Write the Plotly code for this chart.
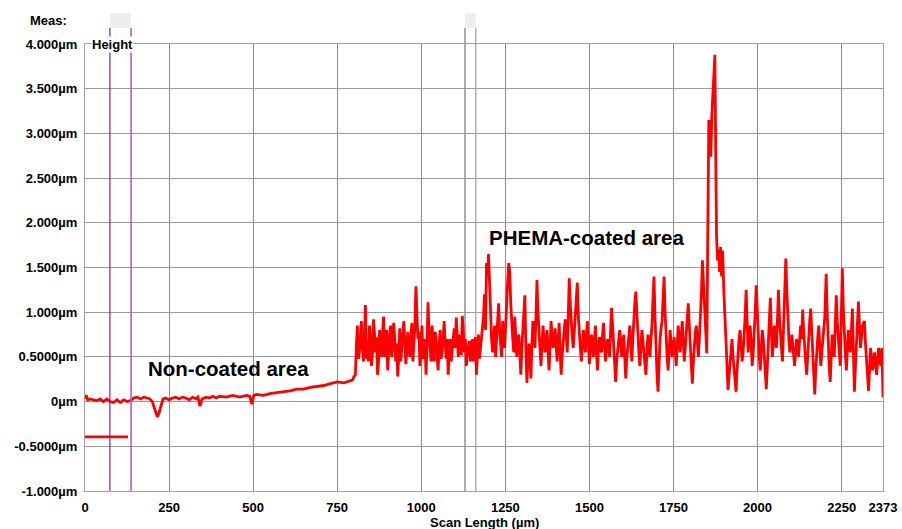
import plotly.graph_objects as go

# ---------------- data ----------------
smooth_x = [0, 4, 8, 15, 25, 35, 45, 55, 65, 75, 85, 95, 105, 115, 125, 135, 145, 155, 165, 175,
            185, 193, 200, 205, 210, 215, 220, 225, 232, 240, 250, 260, 270, 280, 290, 300, 310,
            320, 330, 336, 342, 348, 360, 370, 380, 390, 400, 420, 440, 460, 480, 490, 496, 502,
            510, 530, 550, 570, 590, 610, 630, 650, 670, 690, 710, 730, 750, 770, 785, 795, 800]
smooth_y = [0.03, 0.07, 0.02, 0.03, 0.02, 0.01, 0.03, 0.0, 0.03, 0.0, -0.01, 0.02, -0.01, 0.02, 0.0,
            0.01, 0.04, 0.05, 0.03, 0.05, 0.04, 0.03, 0.0, -0.06, -0.12, -0.17, -0.13, -0.05, 0.03,
            0.04, 0.02, 0.04, 0.05, 0.03, 0.05, 0.04, 0.02, 0.05, 0.03, 0.05, -0.05, 0.03, 0.05, 0.04,
            0.06, 0.04, 0.06, 0.05, 0.07, 0.05, 0.07, 0.06, -0.03, 0.07, 0.08, 0.07, 0.09, 0.10, 0.11,
            0.12, 0.14, 0.14, 0.16, 0.17, 0.18, 0.20, 0.22, 0.21, 0.23, 0.24, 0.28]

noisy_x = [804, 810, 816, 822, 828, 834, 840, 846, 852, 858, 864, 870, 876, 882, 888, 894, 900, 906,
           912, 918, 924, 930, 936, 942, 948, 954, 960, 966, 972, 978, 984, 990, 996,
           1002, 1008, 1014, 1020, 1026, 1032, 1038, 1044, 1050, 1056, 1062, 1068, 1074, 1080, 1086,
           1092, 1098, 1104, 1110, 1116, 1122, 1128, 1134, 1140, 1146, 1152, 1158, 1164, 1170, 1176,
           1182, 1188, 1194,
           1200, 1206, 1212, 1218, 1224, 1230, 1236, 1242, 1248, 1254, 1260, 1266, 1272, 1278, 1284,
           1290, 1296, 1302, 1308, 1314, 1320, 1326, 1332, 1338, 1344, 1350, 1356, 1362, 1368, 1374,
           1380, 1386, 1392,
           1398, 1404, 1410, 1416, 1422, 1428, 1434, 1440, 1446, 1452, 1458, 1464, 1470, 1476, 1482,
           1488, 1494, 1500, 1506, 1512, 1518, 1524, 1530, 1536, 1542, 1548, 1554, 1560, 1566, 1572,
           1578, 1584, 1590,
           1596, 1602, 1608, 1614, 1620, 1626, 1632, 1638, 1644, 1650, 1656, 1662, 1668, 1674, 1680,
           1686, 1692, 1698, 1704, 1710, 1716, 1722, 1728, 1734, 1740, 1746, 1752, 1758, 1764, 1770,
           1776, 1782, 1788,
           1794, 1800, 1806, 1812, 1818, 1824, 1830, 1836, 1840, 1845, 1849, 1852, 1855, 1858, 1861,
           1864, 1867, 1870, 1873, 1876, 1878, 1881, 1884, 1887, 1890, 1893, 1896, 1900, 1903, 1907,
           1912,
           1918, 1924, 1930, 1936, 1942, 1948, 1954, 1960, 1966, 1972, 1978, 1984, 1990, 1996, 2002,
           2008, 2014, 2020, 2026, 2032, 2038, 2044, 2050, 2056, 2062, 2068, 2074, 2080, 2084, 2090,
           2096, 2102, 2110,
           2116, 2122, 2128, 2134, 2140, 2146, 2152, 2158, 2164, 2170, 2176, 2182, 2188, 2194, 2200,
           2204, 2210, 2216, 2222, 2228, 2234, 2240, 2246, 2252, 2258, 2264, 2270, 2276, 2282, 2288,
           2294, 2300, 2306, 2312, 2318, 2324, 2330, 2336, 2342, 2348, 2354, 2360, 2366, 2370, 2373]
noisy_y = [0.30, 0.85, 0.55, 0.90, 0.45, 1.08, 0.60, 0.85, 0.40, 0.92, 0.55, 0.30, 0.80, 0.50, 0.95,
           0.65, 0.35, 0.75, 0.50, 0.88, 0.45, 0.28, 0.82, 0.60, 0.90, 0.42, 0.78, 0.50, 0.88, 0.62,
           1.29, 0.70, 0.40,
           0.85, 0.55, 0.30, 1.11, 0.60, 0.85, 0.45, 0.72, 0.35, 0.80, 0.55, 0.90, 0.48, 0.30, 0.70,
           0.55, 0.82, 0.94, 0.50, 0.68, 0.96, 0.55, 0.40, 0.62, 0.45, 0.70, 0.58, 0.30, 0.75, 0.60,
           0.85, 1.20, 1.55,
           1.65, 0.95, 0.55, 0.85, 0.70, 1.10, 0.65, 0.90, 0.60, 1.20, 1.55, 1.10, 0.70, 0.95, 0.50,
           0.75, 0.30, 0.80, 1.19, 0.21, 0.65, 0.26, 0.90, 0.60, 1.36, 0.75, 0.40, 0.85, 0.55, 0.80,
           0.35, 0.90, 0.60,
           0.82, 0.45, 0.88, 0.30, 0.70, 0.92, 0.55, 1.38, 0.85, 0.60, 0.95, 1.33, 0.70, 0.45, 0.80,
           0.55, 0.90, 0.42, 0.75, 0.50, 0.85, 0.35, 0.72, 0.55, 0.88, 0.45, 0.70, 0.50, 1.05, 0.60,
           0.22, 0.55, 0.80,
           0.50, 0.75, 0.26, 0.65, 0.85, 0.45, 0.95, 1.23, 0.70, 0.40, 0.80, 0.55, 0.30, 0.75, 0.50,
           0.85, 1.40, 0.55, 0.11, 0.70, 0.90, 1.40, 0.65, 0.35, 0.80, 0.50, 0.72, 0.40, 0.85, 0.55,
           0.90, 0.45, 0.75,
           1.10, 0.60, 0.20, 0.70, 0.85, 0.50, 0.90, 1.58, 1.20, 0.80, 0.54, 1.90, 3.15, 2.90, 2.74,
           3.20, 3.41, 3.60, 3.88, 2.60, 1.86, 1.58, 1.70, 1.45, 1.73, 1.40, 1.69, 1.20, 0.99, 0.60,
           0.13,
           0.45, 0.70, 0.35, 0.11, 0.60, 0.80, 0.45, 0.70, 1.25, 0.55, 0.85, 0.40, 0.75, 1.30, 0.60,
           0.35, 0.80, 0.55, 0.14, 0.70, 1.16, 0.50, 0.85, 0.60, 1.25, 0.70, 0.45, 1.20, 1.60, 0.90,
           0.55, 0.75, 0.40,
           0.70, 0.50, 0.85, 1.03, 0.55, 0.30, 0.75, 1.04, 0.50, 0.08, 0.60, 0.85, 0.40, 0.70, 0.95,
           1.43, 0.60, 0.22, 0.75, 0.50, 1.19, 0.65, 0.40, 1.49, 0.70, 0.35, 0.80, 0.55, 1.04, 0.11,
           0.70, 1.12, 0.60, 0.85, 0.90, 0.45, 0.12, 0.60, 0.35, 0.55, 0.30, 0.60, 0.40, 0.60, 0.05]

# additional readings between the samples above (finer detail of the rough coating)
mid_x = [807, 813, 819, 825, 831, 837, 843, 849, 855, 861, 867, 873, 879, 885, 891, 897, 903, 909,
         915, 921, 927, 933, 939, 945, 951, 957, 963, 969, 975, 981, 987, 993, 999,
         1005, 1011, 1017, 1023, 1029, 1035, 1041, 1047, 1053, 1059, 1065, 1071, 1077, 1083, 1089,
         1095, 1101, 1107, 1113, 1119, 1125, 1131, 1137, 1143, 1149, 1155, 1161, 1167, 1173, 1179,
         1185, 1191, 1197,
         1203, 1209, 1215, 1221, 1227, 1233, 1239, 1245, 1251, 1257, 1263, 1269, 1275, 1281, 1287,
         1293, 1299, 1305, 1311, 1317, 1323, 1329, 1335, 1341, 1347, 1353, 1359, 1365, 1371, 1377,
         1383, 1389, 1395,
         1401, 1407, 1413, 1419, 1425, 1431, 1437, 1443, 1449, 1455, 1461, 1467, 1473, 1479, 1485,
         1491, 1497, 1503, 1509, 1515, 1521, 1527, 1533, 1539, 1545, 1551, 1557, 1563, 1569, 1575,
         1581, 1587, 1593,
         1599, 1605, 1611, 1617, 1623, 1629, 1635, 1641, 1647, 1653, 1659, 1665, 1671, 1677, 1683,
         1689, 1695, 1701, 1707, 1713, 1719, 1725, 1731, 1737, 1743, 1749, 1755, 1761, 1767, 1773,
         1779, 1785, 1791,
         1797, 1803, 1809, 1815, 1821, 1827, 1833,
         1915, 1921, 1927, 1933, 1939, 1945, 1951, 1957, 1963, 1969, 1975, 1981, 1987, 1993, 1999,
         2005, 2011, 2017, 2023, 2029, 2035, 2041, 2047, 2053, 2059, 2065, 2071, 2077, 2087, 2093,
         2099, 2106, 2113,
         2119, 2125, 2131, 2137, 2143, 2149, 2155, 2161, 2167, 2173, 2179, 2185, 2191, 2197, 2202,
         2207, 2213, 2219, 2225, 2231, 2237, 2243, 2249, 2255, 2261, 2267, 2273, 2279, 2285, 2291,
         2297, 2303, 2309, 2315, 2321, 2327, 2333, 2339, 2345, 2351, 2357, 2363, 2368]
mid_y = [0.62, 0.48, 0.72, 0.62, 0.70, 0.48, 0.45, 0.70, 0.55, 0.75, 0.72, 0.45, 0.62, 0.78, 0.50,
         0.80, 0.58, 0.85, 0.62, 0.70, 0.65, 0.50, 0.45, 0.70, 0.68, 0.55, 0.62, 0.70, 0.45, 0.85,
         0.95, 0.78, 0.60,
         0.48, 0.70, 0.62, 0.80, 0.45, 0.68, 0.78, 0.50, 0.62, 0.48, 0.72, 0.65, 0.70, 0.50, 0.45,
         0.70, 0.60, 0.72, 0.75, 0.52, 0.78, 0.70, 0.55, 0.68, 0.55, 0.45, 0.72, 0.55, 0.48, 0.70,
         0.95, 0.80, 1.40,
         1.30, 0.70, 0.78, 0.50, 0.88, 0.80, 0.50, 0.75, 0.85, 1.35, 1.45, 0.85, 0.55, 0.72, 0.68,
         0.55, 0.60, 0.95, 0.60, 0.45, 0.50, 0.65, 0.72, 0.95, 1.00, 0.60, 0.65, 0.68, 0.70, 0.55,
         0.62, 0.72, 0.70,
         0.62, 0.70, 0.55, 0.52, 0.80, 0.70, 0.95, 1.10, 0.72, 0.78, 1.15, 0.95, 0.60, 0.65, 0.70,
         0.75, 0.65, 0.60, 0.62, 0.70, 0.55, 0.60, 0.62, 0.75, 0.62, 0.58, 0.62, 0.80, 0.85, 0.40,
         0.45, 0.65, 0.68,
         0.65, 0.50, 0.48, 0.72, 0.62, 0.70, 1.10, 0.95, 0.55, 0.62, 0.68, 0.45, 0.55, 0.62, 0.70,
         1.15, 0.95, 0.30, 0.45, 0.82, 1.15, 1.00, 0.50, 0.60, 0.65, 0.60, 0.58, 0.62, 0.70, 0.72,
         0.68, 0.60, 0.95,
         0.85, 0.40, 0.45, 0.78, 0.65, 0.72, 1.20,
         0.30, 0.62, 0.50, 0.25, 0.35, 0.70, 0.62, 0.55, 0.95, 0.85, 0.70, 0.65, 0.55, 1.00, 0.95,
         0.50, 0.55, 0.70, 0.35, 0.40, 0.95, 0.80, 0.65, 0.72, 0.90, 0.95, 0.60, 0.80, 1.25, 0.70,
         0.62, 0.60, 0.55,
         0.62, 0.68, 0.70, 0.80, 0.45, 0.55, 0.90, 0.75, 0.30, 0.35, 0.72, 0.62, 0.55, 0.78, 1.20,
         1.00, 0.40, 0.50, 0.65, 0.85, 0.90, 0.55, 0.95, 1.05, 0.55, 0.60, 0.70, 0.80, 0.55, 0.40,
         0.90, 0.85, 0.72, 0.88, 0.65, 0.30, 0.35, 0.50, 0.42, 0.45, 0.45, 0.52, 0.50]

level_x = [0, 128]
level_y = [-0.395, -0.395]

cursor_x = [74, 137]          # purple measurement cursors
ref_cursor_x = [1130, 1162]   # grey reference cursors

x_tick_vals = [0, 250, 500, 750, 1000, 1250, 1500, 1750, 2000, 2250, 2373]
x_tick_text = ["0", "250", "500", "750", "1000", "1250", "1500", "1750", "2000", "2250", "2373"]
y_tick_vals = [-1.0, -0.5, 0.0, 0.5, 1.0, 1.5, 2.0, 2.5, 3.0, 3.5, 4.0]
y_tick_text = ["-1.000µm", "-0.5000µm", "0µm", "0.5000µm", "1.000µm", "1.500µm",
               "2.000µm", "2.500µm", "3.000µm", "3.500µm", "4.000µm"]

# ---------------- figure ----------------
FONT = "Arial, Liberation Sans, sans-serif"
RED = "#ff0000"

rough = sorted(zip(noisy_x + mid_x, noisy_y + mid_y))
profile_x = smooth_x + [p[0] for p in rough]
profile_y = smooth_y + [p[1] for p in rough]

fig = go.Figure()
fig.add_trace(go.Scatter(x=profile_x, y=profile_y, mode="lines",
                         line=dict(color=RED, width=2.8), hoverinfo="skip"))
fig.add_trace(go.Scatter(x=level_x, y=level_y, mode="lines",
                         line=dict(color=RED, width=2.6), hoverinfo="skip"))

shapes = []
# grey boxes above cursors
shapes.append(dict(type="rect", xref="x", yref="paper", x0=cursor_x[0], x1=cursor_x[1],
                   y0=1.036, y1=1.069, fillcolor="#eeeeee", line=dict(width=0), layer="above"))
shapes.append(dict(type="rect", xref="x", yref="paper", x0=ref_cursor_x[0], x1=ref_cursor_x[1],
                   y0=1.036, y1=1.069, fillcolor="#eeeeee", line=dict(width=0), layer="above"))
# cursor lines
shapes.append(dict(type="line", xref="x", yref="paper", x0=cursor_x[0], x1=cursor_x[0],
                   y0=0, y1=1.036, line=dict(color="#8b1a9b", width=1.2), layer="above"))
shapes.append(dict(type="line", xref="x", yref="paper", x0=cursor_x[1], x1=cursor_x[1],
                   y0=0, y1=1.036, line=dict(color="#b45cc4", width=1.6), layer="above"))
shapes.append(dict(type="line", xref="x", yref="paper", x0=ref_cursor_x[0], x1=ref_cursor_x[0],
                   y0=0, y1=1.036, line=dict(color="#909090", width=1.5), layer="below"))
shapes.append(dict(type="line", xref="x", yref="paper", x0=ref_cursor_x[1], x1=ref_cursor_x[1],
                   y0=0, y1=1.036, line=dict(color="#b0b0b0", width=1.5), layer="below"))

annotations = [
    dict(text="<b>Non-coated area</b>", x=181, y=0.365, xref="x", yref="y",
         xanchor="left", yanchor="middle", showarrow=False,
         font=dict(family=FONT, size=20.5, color="#000")),
    dict(text="<b>PHEMA-coated area</b>", x=1195, y=1.84, xref="x", yref="y",
         xanchor="left", yanchor="middle", showarrow=False,
         font=dict(family=FONT, size=20.5, color="#000")),
    dict(text="<b>Height</b>", x=17, y=4.0, xref="x", yref="y",
         xanchor="left", yanchor="middle", showarrow=False, bgcolor="white", borderpad=0,
         font=dict(family=FONT, size=13, color="#000")),
    dict(text="<b>Meas:</b>", x=(28 - 85) / 798, y=(491 - 20) / 447, xref="paper", yref="paper",
         xanchor="left", yanchor="middle", showarrow=False,
         font=dict(family=FONT, size=13, color="#000")),
    dict(text="<b>Scan Length (µm)</b>", x=0.5, y=0, xref="paper", yref="paper",
         xanchor="center", yanchor="top", yshift=-22, showarrow=False,
         font=dict(family=FONT, size=13, color="#000")),
]

fig.update_layout(
    width=902, height=529,
    margin=dict(l=85, r=19, t=44, b=38),
    paper_bgcolor="white", plot_bgcolor="white",
    showlegend=False,
    shapes=shapes,
    annotations=annotations,
    font=dict(family=FONT, size=13, color="#000"),
)
fig.update_xaxes(range=[0, 2373], tickvals=x_tick_vals, automargin=False,
                 ticktext=["<b>%s</b>" % t for t in x_tick_text],
                 showgrid=True, gridcolor="#8c8c8c", gridwidth=1,
                 showline=True, linecolor="#a0a0a0", linewidth=1, mirror=True,
                 zeroline=False, ticks="outside", ticklen=4, tickcolor="rgba(0,0,0,0)",
                 tickfont=dict(family=FONT, size=13, color="#000"))
fig.update_yaxes(range=[-1, 4], tickvals=y_tick_vals, automargin=False,
                 ticktext=["<b>%s</b>" % t for t in y_tick_text],
                 showgrid=True, gridcolor="#9a9a9a", gridwidth=1,
                 showline=True, linecolor="#a0a0a0", linewidth=1, mirror=True,
                 zeroline=False, ticks="outside", ticklen=4, tickcolor="rgba(0,0,0,0)",
                 tickfont=dict(family=FONT, size=13, color="#000"))

fig.write_html("out.html")
